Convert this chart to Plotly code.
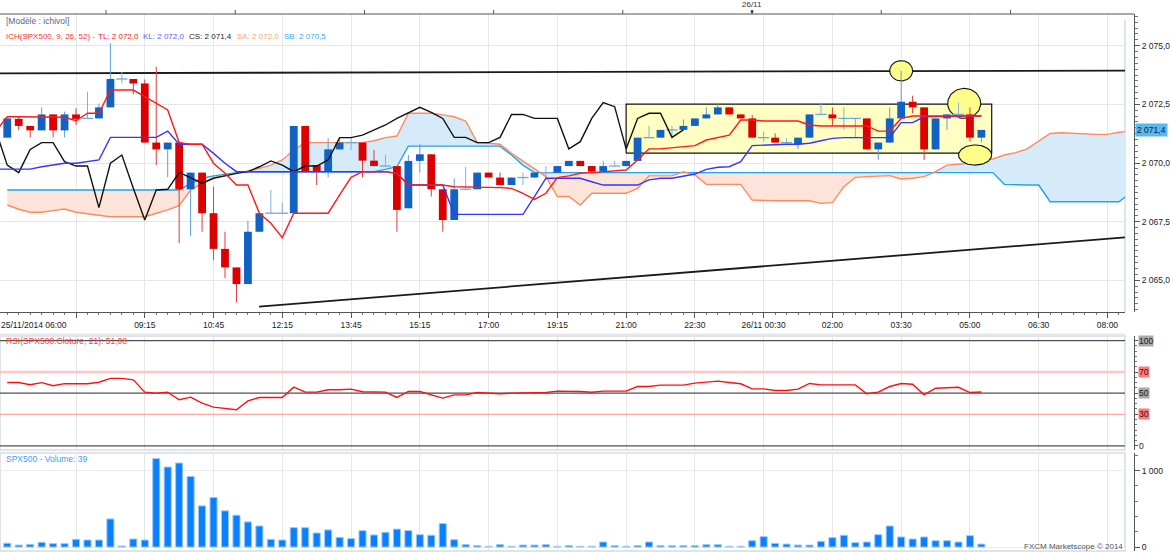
import math
import plotly.graph_objects as go

# ---------------- data ----------------
bars = list(range(86))
open_ = [2071.08, 2071.88, 2071.58, 2071.39, 2072.07, 2071.39, 2072.07, 2071.90, 2071.90, 2072.37,
         2073.58, 2073.58, 2073.39, 2070.87, 2070.58, 2070.87, 2068.88, 2069.59, 2067.86, 2066.34,
         2065.55, 2064.84, 2067.07, 2067.86, 2067.86, 2067.86, 2071.58, 2069.91, 2069.63, 2070.58,
         2070.87, 2070.87, 2070.10, 2069.87, 2069.87, 2068.07, 2070.09, 2070.37, 2068.88, 2067.57,
         2068.88, 2068.88, 2069.59, 2069.38, 2069.06, 2069.38, 2069.38, 2069.59, 2069.59, 2069.87,
         2070.09, 2069.87, 2069.63, 2069.87, 2069.87, 2070.09, 2071.08, 2071.08, 2071.41, 2071.41,
         2071.58, 2071.90, 2072.07, 2072.37, 2072.07, 2071.90, 2071.08, 2071.08, 2070.87, 2070.80,
         2071.08, 2072.07, 2072.07, 2071.90, 2071.90, 2071.90, 2070.58, 2070.87, 2071.90, 2072.61,
         2072.37, 2070.58, 2071.90, 2072.07, 2072.07, 2071.08]
high = [2071.90, 2072.00, 2071.58, 2072.37, 2072.07, 2072.19, 2072.33, 2073.04, 2072.54, 2075.10,
        2073.89, 2073.58, 2073.56, 2074.10, 2070.87, 2070.87, 2069.59, 2069.59, 2068.99, 2067.07,
        2065.55, 2067.54, 2067.86, 2068.85, 2068.31, 2071.58, 2071.58, 2069.91, 2071.05, 2071.05,
        2071.05, 2070.87, 2070.55, 2070.34, 2069.87, 2070.34, 2070.80, 2070.37, 2068.88, 2069.35,
        2069.84, 2069.59, 2069.59, 2069.59, 2069.38, 2069.59, 2069.59, 2069.87, 2069.87, 2070.09,
        2070.09, 2069.87, 2070.09, 2070.09, 2070.09, 2071.08, 2071.58, 2071.41, 2071.58, 2071.86,
        2071.90, 2072.37, 2072.57, 2072.37, 2072.07, 2072.05, 2071.34, 2071.26, 2071.05, 2071.08,
        2072.07, 2072.57, 2072.37, 2072.37, 2071.90, 2071.90, 2070.87, 2072.37, 2073.93, 2072.87,
        2072.37, 2071.90, 2072.07, 2072.57, 2072.37, 2071.41]
low = [2071.08, 2071.41, 2071.09, 2071.39, 2071.09, 2071.09, 2071.62, 2071.90, 2071.90, 2072.37,
       2073.40, 2072.93, 2070.87, 2069.91, 2069.39, 2066.58, 2066.89, 2067.07, 2065.87, 2065.09,
       2064.06, 2064.84, 2067.07, 2067.86, 2067.86, 2067.86, 2069.63, 2069.06, 2069.39, 2070.58,
       2070.55, 2069.39, 2069.87, 2069.87, 2067.07, 2068.07, 2069.59, 2068.57, 2067.07, 2067.57,
       2068.88, 2068.88, 2069.38, 2069.06, 2069.06, 2069.06, 2069.38, 2069.28, 2069.59, 2069.87,
       2069.87, 2069.63, 2069.63, 2069.87, 2069.87, 2070.09, 2071.08, 2071.08, 2071.08, 2071.41,
       2071.58, 2071.90, 2072.07, 2072.07, 2071.90, 2071.08, 2070.91, 2070.87, 2070.77, 2070.60,
       2071.08, 2072.07, 2071.58, 2071.41, 2071.08, 2070.58, 2070.13, 2070.87, 2071.90, 2072.12,
       2070.13, 2070.58, 2071.41, 2071.90, 2070.91, 2070.87]
close = [2071.90, 2071.58, 2071.39, 2072.07, 2071.39, 2072.07, 2071.88, 2071.90, 2072.37, 2073.58,
         2073.58, 2073.39, 2070.87, 2070.58, 2070.87, 2068.88, 2069.59, 2067.86, 2066.34, 2065.55,
         2064.84, 2067.07, 2067.86, 2067.86, 2067.86, 2071.58, 2069.63, 2069.63, 2070.58, 2070.87,
         2070.87, 2070.10, 2069.87, 2069.87, 2068.00, 2070.09, 2070.37, 2068.88, 2067.57, 2068.88,
         2068.88, 2069.59, 2069.38, 2069.06, 2069.38, 2069.38, 2069.59, 2069.59, 2069.87, 2070.09,
         2069.87, 2069.63, 2069.87, 2069.87, 2070.09, 2071.08, 2071.08, 2071.41, 2071.41, 2071.58,
         2071.90, 2072.07, 2072.37, 2072.07, 2071.90, 2071.08, 2071.08, 2070.87, 2070.87, 2071.08,
         2072.07, 2072.07, 2071.90, 2071.90, 2071.90, 2070.58, 2070.87, 2071.90, 2072.61, 2072.37,
         2070.58, 2071.90, 2072.07, 2072.07, 2071.08, 2071.41]

# lines include the partly visible point just left of the first bar (x = -1)
line_x = list(range(-1, 86))
tenkan = [2071.35,
          2071.97, 2071.97, 2071.97, 2071.97, 2071.97, 2071.95, 2071.80, 2072.12, 2072.12, 2073.11,
          2073.11, 2073.11, 2072.83, 2072.54, 2072.26, 2070.87, 2070.80, 2070.80, 2069.99, 2069.56,
          2069.06, 2069.06, 2067.86, 2067.43, 2066.82, 2067.86, 2067.86, 2067.86, 2067.86, 2068.64,
          2069.39, 2069.63, 2069.63, 2069.63, 2069.56, 2069.06, 2069.06, 2069.06, 2069.06, 2068.99,
          2068.99, 2068.99, 2068.96, 2068.95, 2068.92, 2068.71, 2068.45, 2068.71, 2069.38, 2069.45,
          2069.56, 2069.59, 2069.63, 2069.66, 2069.70, 2070.13, 2070.60, 2070.60, 2070.65, 2070.70,
          2070.74, 2070.98, 2071.09, 2071.19, 2071.83, 2071.83, 2071.79, 2071.79, 2071.79, 2071.79,
          2071.62, 2071.58, 2071.58, 2071.58, 2071.58, 2071.58, 2071.36, 2071.36, 2071.90, 2072.00,
          2072.00, 2072.00, 2072.00, 2072.00, 2072.00, 2072.00]
kijun = [2069.74,
         2069.74, 2069.74, 2069.74, 2069.84, 2069.91, 2069.99, 2069.99, 2070.06, 2070.13, 2071.09,
         2071.09, 2071.09, 2071.09, 2071.09, 2071.36, 2070.80, 2070.80, 2070.80, 2070.41, 2069.99,
         2069.63, 2069.63, 2069.63, 2069.63, 2069.63, 2069.63, 2069.63, 2069.63, 2069.63, 2069.63,
         2069.63, 2069.63, 2069.63, 2069.63, 2069.56, 2069.06, 2069.06, 2069.06, 2069.06, 2067.81,
         2067.81, 2067.81, 2067.81, 2067.81, 2067.81, 2067.81, 2068.57, 2069.35, 2069.35, 2069.35,
         2069.35, 2069.20, 2069.06, 2069.06, 2069.06, 2069.06, 2069.28, 2069.35, 2069.35, 2069.45,
         2069.53, 2069.73, 2069.82, 2069.84, 2070.06, 2070.74, 2070.77, 2070.78, 2070.80, 2070.80,
         2070.84, 2070.95, 2071.05, 2071.08, 2071.08, 2071.08, 2071.08, 2071.08, 2071.72, 2071.72,
         2071.97, 2071.97, 2071.97, 2072.00, 2072.00, 2072.00]
chikou_x = list(range(-1, 60))
chikou = [2071.38,
          2069.91, 2069.59, 2070.58, 2070.87, 2070.87, 2070.06, 2069.87, 2069.87, 2068.10, 2069.99,
          2070.34, 2068.92, 2067.57, 2068.85, 2068.88, 2069.59, 2069.38, 2069.13, 2069.35, 2069.45,
          2069.56, 2069.63, 2069.84, 2070.09, 2069.91, 2069.63, 2069.87, 2069.87, 2070.13, 2071.08,
          2071.08, 2071.19, 2071.41, 2071.62, 2071.90, 2072.12, 2072.37, 2072.16, 2071.90, 2071.09,
          2071.09, 2070.87, 2070.87, 2071.09, 2072.07, 2072.07, 2071.90, 2071.90, 2071.90, 2070.60,
          2070.91, 2071.90, 2072.57, 2072.40, 2070.60, 2071.90, 2072.12, 2072.12, 2071.09, 2071.41]
span_x = list(range(99))
senkou_a = [2068.21, 2068.03, 2067.90, 2067.90, 2067.97, 2068.04, 2067.90, 2067.83, 2067.76, 2067.71,
            2067.71, 2067.71, 2067.71, 2067.86, 2068.00, 2068.18, 2068.85, 2069.13, 2069.38, 2069.46,
            2069.56, 2069.67, 2069.77, 2069.91, 2070.13, 2070.55, 2070.87, 2070.87, 2070.87, 2070.87,
            2070.87, 2070.87, 2070.95, 2071.08, 2071.15, 2072.12, 2072.12, 2072.12, 2072.05, 2071.97,
            2071.79, 2070.87, 2070.84, 2070.80, 2070.41, 2070.09, 2069.77, 2069.42, 2068.57, 2068.57,
            2068.21, 2068.71, 2068.71, 2068.71, 2068.71, 2068.92, 2069.45, 2069.45, 2069.45, 2069.63,
            2069.49, 2069.09, 2069.09, 2069.09, 2069.09, 2068.42, 2068.39, 2068.39, 2068.39, 2068.39,
            2068.39, 2068.28, 2068.31, 2068.99, 2069.39, 2069.42, 2069.45, 2069.46, 2069.32, 2069.35,
            2069.42, 2069.63, 2069.91, 2069.96, 2069.99, 2070.10, 2070.17, 2070.34, 2070.44, 2070.60,
            2070.94, 2071.26, 2071.29, 2071.26, 2071.24, 2071.22, 2071.22, 2071.31, 2071.36]
senkou_b = [2068.85, 2068.85, 2068.85, 2068.85, 2068.85, 2068.85, 2068.85, 2068.85, 2068.85, 2068.85,
            2068.85, 2068.85, 2068.85, 2068.85, 2068.85, 2068.85, 2069.13, 2069.35, 2069.45, 2069.53,
            2069.59, 2069.63, 2069.63, 2069.63, 2069.63, 2069.63, 2069.63, 2069.63, 2069.63, 2069.63,
            2069.63, 2069.63, 2069.63, 2069.73, 2069.84, 2070.72, 2070.72, 2070.72, 2070.72, 2070.72,
            2070.72, 2070.72, 2070.72, 2070.72, 2070.34, 2069.91, 2069.59, 2069.59, 2069.59, 2069.59,
            2069.59, 2069.59, 2069.59, 2069.59, 2069.59, 2069.59, 2069.59, 2069.59, 2069.59, 2069.59,
            2069.59, 2069.59, 2069.59, 2069.59, 2069.59, 2069.59, 2069.59, 2069.59, 2069.59, 2069.59,
            2069.59, 2069.59, 2069.59, 2069.59, 2069.59, 2069.59, 2069.59, 2069.59, 2069.59, 2069.59,
            2069.59, 2069.59, 2069.59, 2069.59, 2069.59, 2069.59, 2069.59, 2069.09, 2069.06, 2069.06,
            2069.06, 2068.35, 2068.35, 2068.35, 2068.35, 2068.35, 2068.35, 2068.35, 2068.71]

rsi = [60.1, 60.1, 58.0, 60.0, 57.0, 59.0, 59.0, 59.0, 60.4, 64.0,
       64.0, 62.7, 51.0, 50.0, 51.0, 43.7, 46.2, 40.5, 36.7, 35.1,
       34.2, 42.7, 45.9, 45.9, 45.9, 55.7, 51.0, 51.0, 53.2, 53.2,
       53.8, 51.3, 51.0, 51.0, 45.9, 51.6, 51.6, 48.1, 45.3, 48.4,
       48.4, 50.6, 50.3, 49.4, 50.0, 50.3, 50.3, 50.6, 51.9, 51.9,
       51.6, 50.9, 51.9, 51.9, 51.9, 56.3, 56.3, 57.6, 57.6, 57.6,
       59.5, 60.1, 61.4, 60.1, 58.9, 54.1, 54.1, 52.5, 52.5, 53.8,
       59.2, 57.9, 57.9, 57.9, 57.9, 49.4, 51.0, 56.3, 59.2, 58.5,
       48.4, 54.7, 55.3, 55.6, 50.6, 51.08]
rsi_levels = [100, 70, 50, 30, 0]
volume = [49, 26, 35, 62, 44, 44, 101, 92, 92, 368,
          13, 105, 92, 1158, 1048, 1101, 925, 539, 649, 474,
          417, 329, 276, 101, 92, 254, 254, 184, 224, 127,
          110, 215, 158, 193, 235, 215, 162, 154, 307, 96,
          31, 18, 9, 31, 9, 26, 26, 31, 9, 18,
          9, 9, 66, 18, 9, 18, 66, 18, 18, 18,
          18, 31, 31, 9, 9, 83, 136, 48, 39, 26,
          26, 75, 123, 154, 57, 66, 162, 276, 132, 105,
          132, 83, 83, 66, 149, 39]

grid_ticks = [6, 12, 18, 24, 30, 36, 42, 48, 54, 60, 66, 72, 78, 84, 90, 96]
tick_labels = ["", "09:15", "10:45", "12:15", "13:45", "15:15", "17:00", "19:15", "21:00",
               "22:30", "26/11 00:30", "02:00", "03:30", "05:00", "06:30", "08:00"]
first_label = "25/11/2014 06:00"
top_ticks = [8.62, 19.89, 31.17, 42.44, 53.71, 64.99, 76.26, 87.54]
day_mark_x = 64.99
price_ticks = [2065.0, 2067.5, 2070.0, 2072.5, 2075.0]
price_labels = ["2 065,0", "2 067,5", "2 070,0", "2 072,5", "2 075,0"]
last_price = 2071.4

# drawn objects (analyst annotations)
trend_top_x = [-0.63, 97.53]
trend_top_y = [2073.82, 2073.94]
trend_low_x = [21.97, 97.53]
trend_low_y = [2063.88, 2066.83]
box_x = [54.0, 85.9]
box_y = [2070.42, 2072.51]
ell_x = [78.0, 83.5, 84.45]
ell_y = [2073.93, 2072.54, 2070.34]
ell_rx = [1.0, 1.44, 1.44]
ell_ry = [0.43, 0.64, 0.43]

for arr in (open_, high, low, close, rsi, volume):
    assert len(arr) == 86, len(arr)
assert len(tenkan) == 87 and len(kijun) == 87
assert len(chikou) == 61
assert len(senkou_a) == 99 and len(senkou_b) == 99

# ---------------- geometry ----------------
W, H = 1170, 553
PW = 1134.0


def pxx(x):
    return x / PW


def pyy(y):
    return 1 - y / H


FONT = "Liberation Sans, Arial, sans-serif"
main_dom = [pyy(312), pyy(14)]
rsi_dom = [pyy(450), pyy(336)]
vol_dom = [pyy(551), pyy(453)]
xdom = [0, 1125 / PW]
xr = [-0.633, 97.53]

fig = go.Figure()


def add(tr):
    fig.add_trace(tr)


# ---------------- cloud ----------------
def cloud_polys(xs, a, b):
    polys = []
    cx, ca, cb = [xs[0]], [a[0]], [b[0]]
    sign = a[0] >= b[0]
    for k in range(1, len(xs)):
        s = a[k] >= b[k]
        if s != sign:
            d0 = a[k - 1] - b[k - 1]
            d1 = a[k] - b[k]
            t = d0 / (d0 - d1)
            xc = xs[k - 1] + t * (xs[k] - xs[k - 1])
            yc = a[k - 1] + t * (a[k] - a[k - 1])
            cx.append(xc); ca.append(yc); cb.append(yc)
            polys.append((cx, ca, cb, sign))
            cx, ca, cb = [xc], [yc], [yc]
            sign = s
        cx.append(xs[k]); ca.append(a[k]); cb.append(b[k])
    polys.append((cx, ca, cb, sign))
    return polys


for cx, ca, cb, pos in cloud_polys(span_x, senkou_a, senkou_b):
    add(go.Scatter(x=cx + cx[::-1], y=ca + cb[::-1], fill="toself", mode="lines",
                   line=dict(width=0), fillcolor="#d6ebf9" if pos else "#fde4da",
                   hoverinfo="skip", xaxis="x", yaxis="y"))

add(go.Scatter(x=span_x, y=senkou_b, mode="lines", line=dict(color="#1ea5ee", width=1.4),
               xaxis="x", yaxis="y"))
add(go.Scatter(x=span_x, y=senkou_a, mode="lines", line=dict(color="#ff8a5e", width=1.4),
               xaxis="x", yaxis="y"))

# ---------------- analyst box / trend lines / ellipses ----------------
add(go.Scatter(x=[box_x[0], box_x[1], box_x[1], box_x[0], box_x[0]],
               y=[box_y[0], box_y[0], box_y[1], box_y[1], box_y[0]],
               mode="lines", fill="toself", fillcolor="#ffffc4",
               line=dict(color="#111111", width=1.2), hoverinfo="skip", xaxis="x", yaxis="y"))
add(go.Scatter(x=trend_top_x, y=trend_top_y, mode="lines", line=dict(color="#1a1a1a", width=1.8),
               xaxis="x", yaxis="y"))
add(go.Scatter(x=trend_low_x, y=trend_low_y, mode="lines", line=dict(color="#1a1a1a", width=1.8),
               xaxis="x", yaxis="y"))
for ex, ey, rx, ry in zip(ell_x, ell_y, ell_rx, ell_ry):
    ts = [2 * math.pi * k / 72 for k in range(73)]
    add(go.Scatter(x=[ex + rx * math.cos(t) for t in ts], y=[ey + ry * math.sin(t) for t in ts],
                   mode="lines", fill="toself", fillcolor="#fdfd8a",
                   line=dict(color="#111111", width=1.1), hoverinfo="skip", xaxis="x", yaxis="y"))

# ---------------- candles ----------------
up = [i for i in bars if close[i] > open_[i]]
dn = [i for i in bars if close[i] < open_[i]]
dj = [i for i in bars if close[i] == open_[i]]


def seg_xy(idx, y0, y1):
    xs, ys = [], []
    for i in idx:
        xs += [i, i, None]
        ys += [y0[i], y1[i], None]
    return xs, ys


for idx, col in ((up, "#5f9ddc"), (dn, "#e33a3a"), (dj, "#7fb0e2")):
    wx, wy = seg_xy(idx, low, high)
    add(go.Scatter(x=wx, y=wy, mode="lines", line=dict(color=col, width=1),
                   hoverinfo="skip", xaxis="x", yaxis="y"))

for idx, col in ((up, "#1262c4"), (dn, "#dc0000")):
    bx, by = seg_xy(idx, open_, close)
    add(go.Scatter(x=bx, y=by, mode="lines", line=dict(color=col, width=7.8),
                   hoverinfo="skip", xaxis="x", yaxis="y"))
add(go.Scatter(x=dj, y=[close[i] for i in dj], mode="markers",
               marker=dict(symbol="line-ew", size=8, line=dict(color="#6fa6de", width=1.3)),
               xaxis="x", yaxis="y"))

# ---------------- ichimoku lines ----------------
add(go.Scatter(x=chikou_x, y=chikou, mode="lines", line=dict(color="#111111", width=1.4),
               xaxis="x", yaxis="y"))
add(go.Scatter(x=line_x, y=kijun, mode="lines", line=dict(color="#3535ff", width=1.4),
               xaxis="x", yaxis="y"))
add(go.Scatter(x=line_x, y=tenkan, mode="lines", line=dict(color="#ff1a1a", width=1.4),
               xaxis="x", yaxis="y"))

# ---------------- RSI ----------------
lvl_style = {100: ("#505050", 1.2), 70: ("#ffc6c6", 2.5), 50: ("#505050", 1.2),
             30: ("#ff8c8c", 1.1), 0: ("#505050", 1.2)}
for lvl in rsi_levels:
    col, wdt = lvl_style[lvl]
    add(go.Scatter(x=xr, y=[lvl, lvl], mode="lines", line=dict(color=col, width=wdt),
                   hoverinfo="skip", xaxis="x2", yaxis="y2"))
add(go.Scatter(x=bars, y=rsi, mode="lines", line=dict(color="#ff1010", width=1.4),
               xaxis="x2", yaxis="y2"))

# ---------------- Volume ----------------
add(go.Bar(x=bars, y=volume, width=0.62,
           marker=dict(color="#0a80ff", line=dict(color="#9ccaf8", width=1)),
           xaxis="x3", yaxis="y3"))

# ---------------- shapes (frames, separators, top axis) ----------------
shapes = []
for dom in (rsi_dom, vol_dom):
    shapes.append(dict(type="rect", xref="paper", yref="paper", x0=0, x1=1125 / PW,
                       y0=dom[0], y1=dom[1], line=dict(color="#d5dbe2", width=1.5), layer="below"))
shapes.append(dict(type="line", xref="paper", yref="paper", x0=0, x1=1125 / PW,
                   y0=pyy(334.5), y1=pyy(334.5), line=dict(color="#e3e8ee", width=2), layer="below"))
shapes.append(dict(type="line", xref="paper", yref="paper", x0=1125 / PW, x1=1125 / PW,
                   y0=main_dom[0], y1=pyy(20), line=dict(color="#d5dbe2", width=1.5), layer="below"))
shapes.append(dict(type="line", xref="paper", yref="paper", x0=0, x1=1.0, y0=main_dom[1], y1=main_dom[1],
                   line=dict(color="#555555", width=1), layer="above"))
for t in top_ticks:
    shapes.append(dict(type="line", xref="x", yref="paper", x0=t, x1=t, y0=main_dom[1], y1=pyy(10),
                       line=dict(color="#555555", width=1), layer="above"))

# ---------------- annotations ----------------
ann = []


def txt(x, y, s, color, size=8, xanchor="left", bg=None, xref="paper", yref="paper", pad=0):
    d = dict(x=x, y=y, xref=xref, yref=yref, text=s, showarrow=False, xanchor=xanchor,
             yanchor="middle", font=dict(family=FONT, size=size, color=color), borderpad=pad)
    if bg:
        d["bgcolor"] = bg
    ann.append(d)


txt(pxx(5), pyy(21), "[Modèle : ichivol]", "#5a6486", size=8.5)
txt(pxx(5), pyy(36), "ICH(SPX500, 9, 26, 52) -", "#ff3030", size=8)
txt(pxx(97), pyy(36), "TL: 2 072,0", "#ff2020", size=8)
txt(pxx(142), pyy(36), "KL: 2 072,0", "#5c5cff", size=8)
txt(pxx(188), pyy(36), "CS: 2 071,4", "#222222", size=8)
txt(pxx(236), pyy(36), "SA: 2 072,0", "#ff9f7a", size=8)
txt(pxx(283), pyy(36), "SB: 2 070,5", "#3aa8f2", size=8)
txt(pxx(5), pyy(341), "RSI(SPX500.Cloture, 21): 51,08", "#ff3a3a", size=8.5)
txt(pxx(5), pyy(459), "SPX500 - Volume: 39", "#3d9bff", size=8.5)
txt(pxx(1124), pyy(546), "FXCM Marketscope © 2014", "#555555", size=8, xanchor="right")
txt(pxx(0), pyy(325), first_label, "#222222", size=8.5)
txt(day_mark_x, pyy(5), "26/11", "#333333", size=8, xanchor="center", xref="x")
txt(day_mark_x, pyy(12), "▼", "#333333", size=6, xanchor="center", xref="x")
txt(pxx(1135), last_price, "2 071,4", "#1a1a1a", size=8.5, bg="#58b8f0", yref="y", pad=1)
rsi_bg = {100: "#a8a8a8", 70: "#ff7a7a", 50: "#a8a8a8", 30: "#ff7a7a", 0: None}
for v in rsi_levels:
    txt(pxx(1138), v, str(v), "#1a1a1a", size=8.5, bg=rsi_bg[v], yref="y2", pad=0)

axis_font = dict(family=FONT, size=8.5, color="#222222")
grid_col = "#e6e6e6"

fig.update_layout(
    width=W, height=H, margin=dict(l=0, r=36, t=0, b=0, pad=0),
    paper_bgcolor="white", plot_bgcolor="white", showlegend=False, barmode="overlay",
    font=dict(family=FONT),
    xaxis=dict(domain=xdom, range=xr, anchor="y", tickmode="array", tickvals=grid_ticks,
               ticktext=tick_labels, showgrid=True, gridcolor=grid_col, zeroline=False,
               showline=True, linecolor="#555555", linewidth=1, ticks="outside", ticklen=5,
               tickcolor="#555555", tickfont=dict(family=FONT, size=8.5, color="#222222"),
               minor=dict(tickmode="linear", tick0=0, dtick=1, ticks="outside", ticklen=2,
                          tickcolor="#777777", showgrid=False)),
    xaxis2=dict(domain=xdom, range=xr, anchor="y2", tickmode="array", tickvals=grid_ticks,
                showticklabels=False, ticks="", showgrid=True, gridcolor=grid_col, zeroline=False),
    xaxis3=dict(domain=xdom, range=xr, anchor="y3", tickmode="array", tickvals=grid_ticks,
                showticklabels=False, ticks="", showgrid=True, gridcolor=grid_col, zeroline=False),
    yaxis=dict(domain=main_dom, range=[2063.65, 2076.35], anchor="free", position=1, side="right",
               tickmode="array", tickvals=price_ticks, ticktext=price_labels, showgrid=True,
               gridcolor=grid_col, zeroline=False, showline=True, linecolor="#555555",
               ticks="outside", ticklen=5, tickcolor="#555555", tickfont=axis_font,
               minor=dict(tickmode="linear", tick0=2065, dtick=0.25, ticks="outside", ticklen=3,
                          tickcolor="#777777", showgrid=False)),
    yaxis2=dict(domain=rsi_dom, range=[-4, 104.3], anchor="free", position=1, side="right",
                tickmode="array", tickvals=rsi_levels, showticklabels=False, showgrid=False,
                zeroline=False, showline=True, linecolor="#555555", ticks="outside", ticklen=3,
                tickcolor="#555555",
                minor=dict(tickmode="linear", tick0=0, dtick=5, ticks="outside", ticklen=2,
                           tickcolor="#777777", showgrid=False)),
    yaxis3=dict(domain=vol_dom, range=[-52, 1232], anchor="free", position=1, side="right",
                tickmode="array", tickvals=[0, 1000], ticktext=["0", "1 000"], showgrid=True,
                gridcolor="#ececec", zeroline=False, showline=True, linecolor="#555555",
                ticks="outside", ticklen=5, tickcolor="#555555", tickfont=axis_font,
                minor=dict(tickmode="linear", tick0=0, dtick=200, ticks="outside", ticklen=3,
                           tickcolor="#777777", showgrid=False)),
    shapes=shapes, annotations=ann,
)

fig.write_html("out.html", config={"displayModeBar": False},
               post_script="document.body.style.margin='0px';")
